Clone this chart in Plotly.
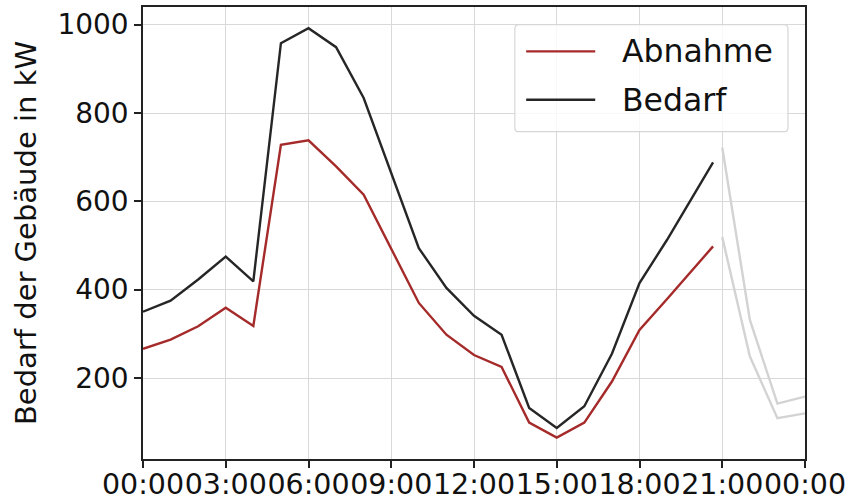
import pandas as pd
import plotly.graph_objects as go

# Tageslastgang (stündlich, letzter Messwert 20:40)
zeit = ["00:00", "01:00", "02:00", "03:00", "04:00", "05:00", "06:00", "07:00",
        "08:00", "09:00", "10:00", "11:00", "12:00", "13:00", "14:00", "15:00",
        "16:00", "17:00", "18:00", "19:00", "20:00", "20:40"]
abnahme = [266, 287, 317, 359, 318, 728, 738, 679, 615, 494, 370, 298, 252, 225,
           99, 65, 99, 192, 309, 379, 450, 498]
bedarf = [350, 375, 423, 475, 419, 958, 992, 949, 834, 665, 494, 404, 341, 298,
          132, 87, 136, 255, 415, 513, 617, 688]

# Ausblick ab 21:00 bis Mitternacht
zeit_rest = ["21:00", "22:00", "23:00", "24:00"]
abnahme_rest = [519, 249, 109, 120]
bedarf_rest = [722, 332, 142, 158]

tag = pd.Timestamp("2023-01-01")


def to_ts(hhmm):
    h, m = map(int, hhmm.split(":"))
    return tag + pd.Timedelta(hours=h, minutes=m)


x_main = [to_ts(t) for t in zeit]
x_rest = [to_ts(t) for t in zeit_rest]

ROT = "#a52a2a"
SCHWARZ = "#262626"
GRAU = "#d3d3d3"
FONT = "DejaVu Sans"
LW = 2.4

fig = go.Figure()
fig.add_trace(go.Scatter(x=x_rest, y=abnahme_rest, mode="lines",
                         line=dict(color=GRAU, width=LW), showlegend=False))
fig.add_trace(go.Scatter(x=x_rest, y=bedarf_rest, mode="lines",
                         line=dict(color=GRAU, width=LW), showlegend=False))
fig.add_trace(go.Scatter(x=x_main, y=abnahme, mode="lines", name="Abnahme",
                         line=dict(color=ROT, width=LW), showlegend=False))
fig.add_trace(go.Scatter(x=x_main, y=bedarf, mode="lines", name="Bedarf",
                         line=dict(color=SCHWARZ, width=LW), showlegend=False))

# Legende im Stil eines Kastens oben rechts
lx0, lx1, ly0, ly1 = 0.5617, 0.9743, 0.7241, 0.9608
rx, ry = 0.006, 0.009
path = (f"M{lx0+rx},{ly0} L{lx1-rx},{ly0} Q{lx1},{ly0} {lx1},{ly0+ry} "
        f"L{lx1},{ly1-ry} Q{lx1},{ly1} {lx1-rx},{ly1} L{lx0+rx},{ly1} "
        f"Q{lx0},{ly1} {lx0},{ly1-ry} L{lx0},{ly0+ry} Q{lx0},{ly0} {lx0+rx},{ly0} Z")
shapes = [dict(type="path", xref="paper", yref="paper", path=path,
               fillcolor="rgba(255,255,255,0.8)", line=dict(color="#d6d6d6", width=1.2),
               layer="above")]
eintraege = [("Abnahme", ROT, 0.9018), ("Bedarf", SCHWARZ, 0.7949)]
annotations = []
for text, farbe, yy in eintraege:
    shapes.append(dict(type="line", xref="paper", yref="paper", x0=0.5788, x1=0.6831,
                       y0=yy, y1=yy, line=dict(color=farbe, width=LW), layer="above"))
    annotations.append(dict(xref="paper", yref="paper", x=0.721, y=yy, text=text,
                            showarrow=False, xanchor="left", yanchor="middle",
                            font=dict(family=FONT, size=31.5, color="#111111")))

fig.update_layout(
    width=851, height=503,
    margin=dict(l=143, r=46, t=7, b=44),
    paper_bgcolor="white", plot_bgcolor="white",
    font=dict(family=FONT, size=28, color="#111111"),
    shapes=shapes, annotations=annotations,
    showlegend=False,
)
fig.update_xaxes(
    range=[tag, tag + pd.Timedelta(hours=24)],
    tickmode="linear", tick0=tag, dtick=3 * 3600 * 1000, tickformat="%H:%M",
    tickangle=0, ticklabelstandoff=-8,
    showgrid=True, gridcolor="#d9d9d9", gridwidth=1.3,
    showline=True, linecolor="#222222", linewidth=1.5, mirror=True,
    ticks="outside", ticklen=7, tickwidth=1.5, tickcolor="#222222",
    tickfont=dict(family=FONT, size=28.5, color="#111111"),
    zeroline=False, automargin=False,
)
fig.update_yaxes(
    range=[16.6, 1040],
    tickmode="array", tickvals=[200, 400, 600, 800, 1000],
    showgrid=True, gridcolor="#d9d9d9", gridwidth=1.3,
    showline=True, linecolor="#222222", linewidth=1.5, mirror=True,
    ticks="outside", ticklen=7, tickwidth=1.5, tickcolor="#222222",
    tickfont=dict(family=FONT, size=28, color="#111111"),
    title=dict(text="Bedarf der Gebäude in kW", standoff=12,
               font=dict(family=FONT, size=29, color="#111111")),
    zeroline=False, automargin=False,
)

fig.write_html("out.html")
